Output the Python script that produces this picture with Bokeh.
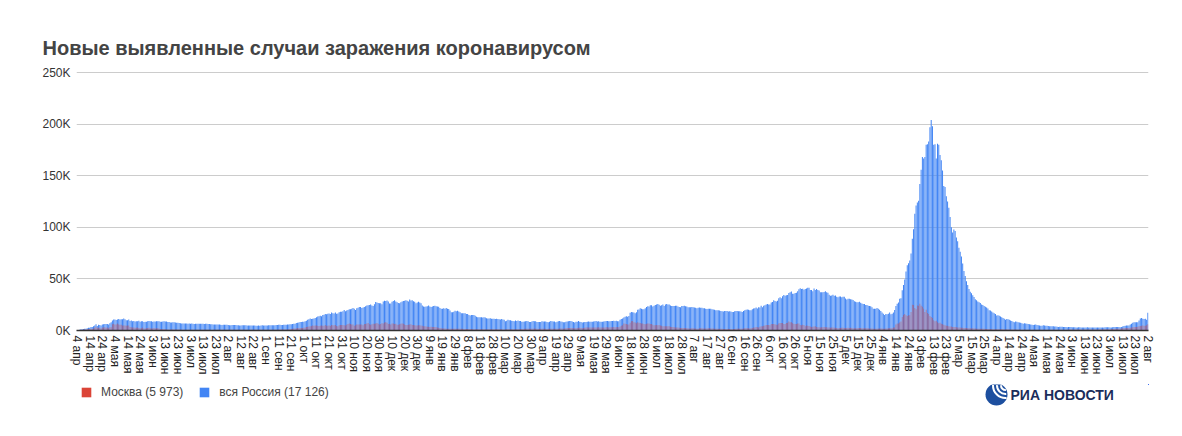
import datetime as dt
from bokeh.plotting import figure
from bokeh.models import FixedTicker, Legend, LegendItem, ColumnDataSource, Range1d
from bokeh.layouts import column
from bokeh.core.properties import value
from bokeh.embed import file_html
from bokeh.resources import INLINE

title_text = "Новые выявленные случаи заражения коронавирусом"
start_date = dt.date(2020, 4, 4)
month_abbr = ["янв", "фев", "мар", "апр", "мая", "июн", "июл", "авг", "сен", "окт", "ноя", "дек"]

# ---- вся Россия, daily new cases ----
russia_2020 = [
    601, 582, 658, 1154, 1175, 1459, 1786, 1667, 2186, 2558, 2774, 3388, 3448, 4070, 4785, 6060, 4268, 5642, 5236, 4774, 5849, 5966, 6361, 6198, 6411, 5841, 7099,
    7933, 9623, 10633, 10581, 10102, 10559, 11231, 10699, 10817, 11012, 11656, 10899, 10028, 9974, 10598, 9200, 9709, 8926, 9263, 8764, 8849, 8894, 9434, 8599, 8946, 8915, 8338, 8371, 8572, 8952, 9268,
    9035, 8863, 8536, 8831, 8726, 8855, 8984, 8985, 8595, 8404, 8779, 8987, 8706, 8835, 8246, 8248, 7843, 7790, 7972, 7889, 7728, 7600, 7425, 7176, 7113, 6800, 6852, 6791, 6719, 6693,
    6556, 6760, 6632, 6736, 6611, 6368, 6562, 6635, 6509, 6615, 6611, 6537, 6615, 6248, 6422, 6428, 6406, 6234, 6109, 6170, 5842, 5862, 5848, 5811, 5871, 5765, 5635, 5395, 5475, 5509, 5482,
    5462, 5427, 5159, 5204, 5267, 5241, 5212, 5241, 5189, 5118, 4892, 4945, 5102, 5061, 5065, 5061, 4839, 4748, 4790, 4767, 4838, 4921, 4852, 4696, 4676, 4744, 4711, 4829, 4980, 4897, 4729,
    4729, 4952, 4995, 5110, 5205, 5195, 5185, 5099, 5363, 5449, 5475, 5488, 5406, 5361, 5509, 5529, 5670, 5762, 5905, 6065, 6148, 6215, 6431, 6595, 7212, 7523, 7867, 8135, 8232, 8481,
    8481, 8945, 9412, 10499, 10888, 11615, 11115, 11493, 11615, 12126, 12846, 13634, 13868, 14231, 13754, 14922, 15150, 15982, 15700, 16319, 16521, 15971, 17340, 16710, 16550, 17347, 16202, 16541, 17717, 18283, 18140,
    18665, 19768, 18648, 19404, 19851, 20582, 20498, 20977, 21798, 20977, 19851, 21608, 21983, 22702, 22778, 21798, 22410, 22778, 23610, 24318, 24581, 24822, 25173, 24326, 23675, 25487, 27543, 27100, 26683, 26338,
    26402, 25345, 28145, 28782, 28585, 29039, 28137, 26097, 26190, 27927, 28585, 29350, 28137, 27328, 26689, 26431, 27328, 28209, 28552, 28948, 29258, 28776, 28214, 29935, 29018, 29350, 28284, 27787, 26513, 27039, 27747,
]
russia_2021 = [
    27029, 26301, 24150, 23351, 22934, 23309, 23541, 24246, 23194, 22851, 23315, 23652, 24092, 23541, 23315, 22934, 21734, 21127, 21152, 21513, 20986, 21733, 21127, 20921, 19290, 17741, 17648, 18241, 19032, 18731, 19032,
    18359, 17648, 16643, 16714, 16688, 16627, 15916, 16000, 15068, 14652, 15068, 15039, 14982, 14207, 13433, 12828, 12953, 12742, 12953, 12604, 12742, 12604, 11823, 11534, 11749, 11753, 11359, 11359,
    11359, 11024, 11385, 11198, 11022, 10595, 11024, 10595, 10407, 9079, 9445, 10445, 10007, 10000, 9437, 9317, 9000, 9632, 9299, 9699, 9299, 9195, 8431, 8431, 8769, 9073, 9088, 8979, 8318, 8277, 8679,
    9124, 9016, 8907, 8328, 8292, 8328, 8294, 9073, 8803, 8774, 8702, 8173, 8053, 8599, 9209, 9016, 8733, 8632, 8053, 8399, 8995, 9270, 8780, 8466, 8053, 8114, 8487, 8786, 9074, 9252,
    9270, 8697, 8327, 7770, 8417, 8419, 9155, 8554, 8232, 7730, 7976, 8169, 8217, 8380, 8792, 8457, 8598, 8554, 8632, 8947, 9252, 8706, 8951, 8373, 8420, 8489, 8828, 8947, 9252, 9268, 8946,
    9022, 9145, 9270, 9371, 9208, 9329, 8985, 8947, 10407, 11057, 11699, 12505, 13397, 13721, 13397, 14057, 17262, 17906, 17611, 17378, 16715, 17594, 20182, 20393, 21665, 21042, 20538, 20616, 21650, 22778,
    23543, 23218, 24353, 24439, 23378, 23962, 24702, 25116, 25766, 25033, 24072, 24439, 25116, 23827, 25293, 25704, 25140, 25142, 24166, 23770, 23704, 23811, 24072, 24105, 23270, 22804, 22420, 23704, 23811, 24105, 23564,
    23270, 22589, 22420, 22589, 22804, 22420, 22277, 22069, 21571, 21932, 22277, 22160, 21932, 21624, 21571, 20992, 20765, 21058, 20992, 21150, 20564, 20328, 20185, 19706, 19509, 19630, 19286, 18976, 18645, 18325, 18780,
    18985, 18780, 18341, 18645, 18325, 17837, 17856, 18554, 18841, 18985, 18737, 18554, 18341, 17837, 18841, 19594, 20174, 20329, 20056, 19594, 19706, 20616, 21379, 21559, 22236, 21438, 22430, 22236, 23888, 22430,
    23888, 24522, 25133, 25781, 25110, 25133, 27246, 27550, 29362, 28647, 28190, 28717, 31299, 32196, 31299, 33208, 34325, 33740, 34073, 34325, 36339, 37141, 37678, 35660, 35660, 36446, 36582, 37930, 40096, 40993, 40251,
    40402, 39400, 40217, 40735, 41335, 41335, 39165, 39160, 38058, 40759, 39160, 40123, 39256, 38823, 36970, 37120, 37156, 37374, 37930, 37120, 36626, 34690, 33558, 33860, 34690, 33558, 33860, 32648, 32136, 32930,
    32930, 32136, 32648, 32602, 31096, 29929, 30752, 30752, 30209, 29929, 29558, 28363, 27967, 27434, 27403, 27967, 26821, 26252, 25567, 25567, 24703, 24703, 24097, 23721, 23543, 22445, 21155, 21155, 21073, 21922, 21073,
]
russia_2022 = [
    20051, 18946, 17525, 16246, 15013, 15883, 15752, 16246, 17525, 15830, 16246, 17526, 19751, 23820, 25924, 27233, 30726, 31252, 38956, 44037, 49513, 57212, 63205, 65109, 67809, 74692, 88816, 98040, 113122, 121228, 124070,
    125836, 141883, 155768, 168201, 166631, 168201, 180071, 180456, 183103, 197076, 203949, 197949, 180071, 180456, 166631, 181000, 180000, 170000, 165000, 155000, 140000, 139000, 130000, 125000, 119000, 110000, 100000, 95000,
    98000, 96500, 90200, 86400, 80100, 76300, 71800, 64900, 57600, 52900, 47800, 44200, 40300, 37600, 36200, 34100, 32500, 30400, 29300, 28100, 27300, 26600, 25200, 24700, 23800, 23100, 22200, 21300, 19700, 19300, 18500,
    17500, 16800, 15900, 14600, 14900, 14400, 13500, 12800, 12200, 11300, 10400, 11100, 10900, 10300, 9800, 9300, 8600, 8100, 8700, 8500, 8100, 7800, 7400, 7000, 6500, 7100, 6900, 6600, 6400, 6100,
    5900, 5600, 5300, 5600, 5700, 5400, 5200, 4900, 4600, 4700, 5000, 4900, 4700, 4500, 4300, 4000, 4100, 4200, 4000, 3900, 3800, 3600, 3400, 3600, 3700, 3600, 3500, 3400, 3300, 3200, 3300,
    3300, 3300, 3200, 3100, 3100, 2900, 3000, 3100, 3100, 3000, 2900, 2900, 2800, 2900, 3100, 3000, 3000, 2900, 2900, 2800, 3000, 3000, 3000, 3000, 2900, 2900, 2800, 3000, 3100, 3100,
    3100, 3100, 3000, 2900, 3200, 3300, 3300, 3400, 3400, 3300, 3200, 3500, 3900, 4400, 4700, 4900, 4900, 4800, 5700, 6500, 7500, 8100, 8000, 8100, 8000, 9600, 11600, 12200, 11500, 11100, 11400,
    10400, 17126,
]

# ---- Москва, daily new cases ----
moscow_2020 = [
    434, 387, 397, 697, 660, 857, 1124, 1030, 1355, 1489, 1355, 1774, 1370, 1959, 2649, 3570, 2548, 2548, 2612, 1958, 2942, 2829, 3083, 2675, 2871, 2220, 3093,
    3075, 5948, 6443, 5858, 5714, 6703, 5846, 5667, 5551, 4794, 4775, 4925, 4703, 4748, 4833, 3505, 3238, 2913, 2988, 2699, 2631, 2913, 2516, 2140, 2297, 2830, 2054, 2054, 2220, 2332, 2595,
    2286, 1842, 1842, 2303, 2001, 2081, 2140, 1850, 1572, 1195, 1470, 1477, 1195, 1000, 1063, 1048, 988, 1010, 1167, 1016, 954, 911, 862, 916, 877, 831, 847, 806, 782, 759,
    700, 680, 683, 723, 697, 682, 683, 684, 656, 683, 703, 712, 636, 654, 650, 635, 611, 635, 612, 590, 640, 652, 703, 690, 663, 706, 669, 667, 643, 677, 661,
    687, 695, 659, 649, 686, 694, 697, 683, 677, 684, 619, 686, 672, 690, 650, 662, 623, 602, 659, 652, 682, 709, 651, 634, 678, 616, 645, 648, 710, 730, 703,
    709, 756, 772, 795, 752, 780, 754, 810, 816, 795, 898, 914, 925, 997, 1053, 1056, 1050, 1040, 1217, 1388, 1560, 1792, 1995, 2016, 1994, 2304, 2217, 2424, 2488, 2424,
    2677, 2884, 3327, 3537, 3855, 4082, 4312, 4800, 4575, 4785, 4848, 4556, 4450, 4612, 4829, 4648, 4701, 5376, 4610, 4493, 4851, 4318, 5224, 5021, 4996, 5224, 4331, 4160, 5107, 5212, 5255,
    5268, 5177, 4932, 5582, 6253, 6897, 6254, 5882, 5882, 4707, 5140, 5829, 5823, 5783, 5891, 5897, 5022, 6255, 6230, 6838, 7168, 6131, 5582, 6049, 6556, 6658, 6866, 7168, 6555, 5848,
    6364, 7011, 6857, 7750, 7993, 7616, 6404, 6456, 5853, 6894, 6767, 6400, 6427, 5548, 5489, 6058, 6500, 6713, 6437, 5796, 5295, 5215, 5600, 5800, 6000, 5400, 5400, 5150, 4800, 4900, 5100,
]
moscow_2021 = [
    5000, 4800, 4600, 4100, 4000, 3900, 3700, 3600, 3500, 3600, 3500, 3400, 3300, 3100, 2900, 2700, 2500, 2300, 2000, 1900, 1900, 1800, 1800, 1700, 1700, 1600, 1600, 1700, 1700, 1700, 1600,
    1700, 1600, 1600, 1600, 1500, 1500, 1400, 1500, 1400, 1500, 1400, 1300, 1300, 1300, 1200, 1100, 1200, 1100, 1100, 1100, 1200, 1100, 1000, 1100, 1100, 1100, 1100, 1100,
    1100, 1100, 1100, 1200, 1100, 1200, 1100, 1000, 1000, 1000, 1100, 1300, 1300, 1300, 1300, 1200, 1200, 1300, 1300, 1200, 1300, 1500, 1500, 1400, 1600, 1700, 1700, 1700, 1700, 1800, 1700,
    1800, 1900, 1800, 1700, 1500, 1700, 1600, 1700, 1700, 1600, 1600, 1500, 1600, 1700, 1700, 1800, 1700, 1700, 1600, 1700, 1800, 2000, 2000, 1900, 1800, 1900, 2200, 2400, 2400, 2500,
    2500, 2400, 2200, 2200, 2300, 2400, 2700, 2600, 2500, 2300, 2400, 2600, 2800, 2900, 2900, 2800, 2800, 2900, 2800, 2900, 3000, 3000, 3100, 2900, 2800, 2800, 2900, 3000, 3100, 3100, 3000,
    3100, 3200, 3200, 3300, 3200, 3200, 3300, 3100, 3800, 4500, 5000, 6700, 6600, 6300, 5800, 5800, 7500, 9000, 9100, 8000, 7700, 7000, 7900, 7600, 7300, 6700, 6700, 6300, 6000, 6500,
    6700, 6800, 6400, 6300, 5500, 5100, 5200, 5300, 5000, 5300, 4800, 4600, 4200, 4100, 4200, 4200, 4100, 4000, 3700, 3400, 3300, 3200, 3000, 2900, 2800, 2600, 2500, 2500, 2500, 2400, 2400,
    2300, 2100, 2000, 2000, 2100, 2100, 2000, 1900, 1800, 1800, 2100, 2200, 2100, 2000, 2000, 1900, 1900, 2100, 2100, 2000, 2000, 1900, 1700, 1700, 1700, 1800, 1700, 1600, 1600, 1500, 1500,
    1500, 1500, 1600, 1500, 1400, 1300, 1400, 1500, 1700, 1800, 1900, 1800, 1700, 1700, 2000, 2200, 2300, 2300, 2200, 2000, 2300, 2500, 2900, 3000, 3300, 3100, 3000, 3700, 4100, 4000,
    4700, 4900, 5300, 5300, 5300, 5100, 6300, 6400, 6300, 6000, 5600, 5600, 6800, 7200, 7300, 7200, 6300, 6400, 7200, 7500, 8700, 8100, 8100, 7100, 6600, 6300, 6400, 6900, 6700, 5300, 5000,
    5600, 5300, 4200, 4800, 4700, 4400, 3900, 3300, 3700, 3800, 4000, 3500, 3200, 3100, 2900, 3200, 3200, 3300, 3200, 3200, 3000, 2800, 2700, 2800, 2900, 2700, 2700, 2500, 2300, 2500,
    2500, 2600, 2600, 2500, 2500, 2400, 2600, 2500, 2600, 2500, 2300, 2300, 2300, 2300, 2400, 2500, 2400, 2200, 2100, 2100, 2100, 2200, 2100, 2000, 2000, 1900, 1800, 1700, 1700, 1800, 1900,
]
moscow_2022 = [
    1900, 1900, 1900, 1800, 1800, 2000, 2000, 2100, 2100, 2100, 2300, 2800, 3000, 5900, 6700, 6900, 7700, 8700, 13000, 15000, 16100, 14900, 14000, 14700, 14800, 18000, 25000, 24600, 21900, 20500, 24300,
    24000, 26000, 24000, 23000, 21000, 18000, 20000, 17000, 16000, 14000, 13000, 12000, 10000, 9000, 9500, 8000, 7000, 7500, 6500, 6000, 5500, 5000, 4700, 4500, 4200, 3900, 3800, 3500,
    3500, 3300, 3100, 3000, 2900, 2800, 2700, 2600, 2500, 2400, 2400, 2300, 2200, 2100, 2000, 2100, 2000, 1900, 1800, 1800, 1800, 1700, 1600, 1700, 1600, 1500, 1500, 1400, 1400, 1400, 1300,
    1300, 1300, 1200, 1300, 1200, 1200, 1100, 1200, 1100, 1000, 1000, 1100, 1000, 1000, 900, 950, 900, 850, 900, 850, 800, 900, 850, 800, 800, 850, 800, 750, 800, 750,
    700, 750, 700, 700, 800, 750, 700, 700, 650, 700, 750, 700, 800, 750, 700, 700, 700, 750, 750, 800, 750, 700, 700, 750, 800, 750, 800, 800, 750, 800, 850,
    850, 900, 850, 800, 850, 900, 850, 900, 900, 850, 800, 850, 900, 950, 900, 950, 1000, 950, 900, 1000, 1050, 1000, 1000, 1050, 1100, 1000, 1100, 1150, 1200, 1200,
    1250, 1300, 1250, 1350, 1400, 1500, 1600, 1700, 1750, 1700, 1800, 2000, 2100, 2300, 2400, 2500, 2400, 2500, 2700, 3000, 3200, 3500, 3400, 3500, 3700, 4000, 4300, 4500, 4800, 4600, 4700,
    5200, 5973,
]

russia = russia_2020 + russia_2021 + russia_2022
moscow = moscow_2020 + moscow_2021 + moscow_2022
if len(russia) != len(moscow):
    raise SystemExit(f"length mismatch: russia={len(russia)} moscow={len(moscow)}")

y_ticks = [0, 50000, 100000, 150000, 200000, 250000]
y_tick_labels = {v: f"{v // 1000}K" for v in y_ticks}

n = len(russia)
dates = [start_date + dt.timedelta(days=i) for i in range(n)]
idx = list(range(n))
tick_idx = idx[::10]
tick_labels = {i: f"{dates[i].day} {month_abbr[dates[i].month - 1]}" for i in tick_idx}

BLUE = "#4285F4"
RED = "#DB4437"
FONT = "Liberation Sans"

src = ColumnDataSource(dict(x=idx, russia=russia, moscow=moscow))

W = 1166
# frame: x 76..1148, y 71..330 (page coordinates; the page has no margin)
p = figure(width=W, height=384, x_range=(-0.5, n - 0.5), y_range=(0, 251000),
           output_backend="svg", toolbar_location=None,
           min_border_left=76, min_border_right=W - 1148, min_border_top=71, min_border_bottom=54)
p.outline_line_color = None

p.title.text = title_text
p.title.align = "left"
p.title.offset = -34
p.title.standoff = 25
p.title.text_font = FONT
p.title.text_font_size = "20px"
p.title.text_font_style = "bold"
p.title.text_color = "#444444"

p.vbar(x="x", top="russia", width=0.8, source=src, fill_color=BLUE, line_color=None)
p.vbar(x="x", top="moscow", width=0.6, source=src, fill_color=RED, fill_alpha=0.55, line_color=None)

p.xgrid.grid_line_color = None
p.ygrid.grid_line_color = "#cccccc"
p.ygrid.grid_line_width = 1
p.ygrid.ticker = FixedTicker(ticks=y_ticks)

p.xaxis.ticker = FixedTicker(ticks=tick_idx)
p.xaxis.major_label_overrides = tick_labels
p.xaxis.major_label_orientation = "vertical"
p.xaxis.axis_line_color = "#333333"
p.xaxis.axis_line_width = 1.5
p.xaxis.major_tick_line_color = None
p.xaxis.major_tick_out = 0
p.xaxis.major_tick_in = 0
p.xaxis.minor_tick_line_color = None
p.xaxis.major_label_standoff = 5
p.xaxis.major_label_text_font = FONT
p.xaxis.major_label_text_font_size = "12px"
p.xaxis.major_label_text_color = "#222222"

p.yaxis.ticker = FixedTicker(ticks=y_ticks)
p.yaxis.major_label_overrides = y_tick_labels
p.yaxis.axis_line_color = None
p.yaxis.major_tick_line_color = None
p.yaxis.major_tick_out = 0
p.yaxis.major_tick_in = 0
p.yaxis.minor_tick_line_color = None
p.yaxis.major_label_standoff = 6
p.yaxis.major_label_text_font = FONT
p.yaxis.major_label_text_font_size = "12px"
p.yaxis.major_label_text_color = "#333333"

# ---- legend + logo strip (its frame is aligned to the main frame: x 76..1148) ----
H2 = 436 - 384
p2 = figure(width=W, height=H2, x_range=(76, 1148), y_range=(0, H2),
            output_backend="svg", toolbar_location=None,
            x_axis_location=None, y_axis_location=None, min_border=0)
p2.outline_line_color = None
p2.xgrid.grid_line_color = None
p2.ygrid.grid_line_color = None

# the same series, placed on off-screen ranges, only to key the legend
p2.extra_x_ranges = {"off": Range1d(start=-30000, end=-20000)}
p2.extra_y_ranges = {"off": Range1d(start=-2e9, end=-1e9)}
rm = p2.vbar(x="x", top="moscow", width=0.8, source=src, x_range_name="off", y_range_name="off",
             fill_color=RED, line_color=None)
rr = p2.vbar(x="x", top="russia", width=0.8, source=src, x_range_name="off", y_range_name="off",
             fill_color=BLUE, line_color=None)

fmt = lambda v: f"{v:,}".replace(",", " ")
legend = Legend(items=[LegendItem(label=f"Москва ({fmt(moscow[-1])})", renderers=[rm]),
                       LegendItem(label=f"вся Россия ({fmt(russia[-1])})", renderers=[rr])],
                orientation="horizontal", location=(4, H2 - 15),
                glyph_width=12, glyph_height=12, label_height=12, label_width=10,
                label_standoff=9, spacing=15, padding=0, margin=0,
                label_text_font=FONT, label_text_font_size="12px", label_text_color="#444444",
                border_line_color=None, background_fill_alpha=0)
p2.add_layout(legend)

# logo (coordinates in page pixels: x as on the page, y measured up from the page bottom)
cx, cy = 996, 436 - 394
p2.circle(x=[cx], y=[cy], radius=11, fill_color="#1d4f9f", line_color=None)
p2.arc(x=[cx + 9] * 3, y=[cy + 9] * 3, radius=[4.5, 8.5, 12.5], start_angle=3.1, end_angle=4.8,
       line_color="white", line_width=2)
p2.text(x=[1010], y=[cy], text=["РИА НОВОСТИ"], text_font=value(FONT), text_font_size="14px",
        text_font_style="bold", text_color="#1b2d5b", text_baseline="middle", text_align="left")

layout = column(p, p2, spacing=0)
open("out.html", "w").write(file_html(layout, INLINE))
